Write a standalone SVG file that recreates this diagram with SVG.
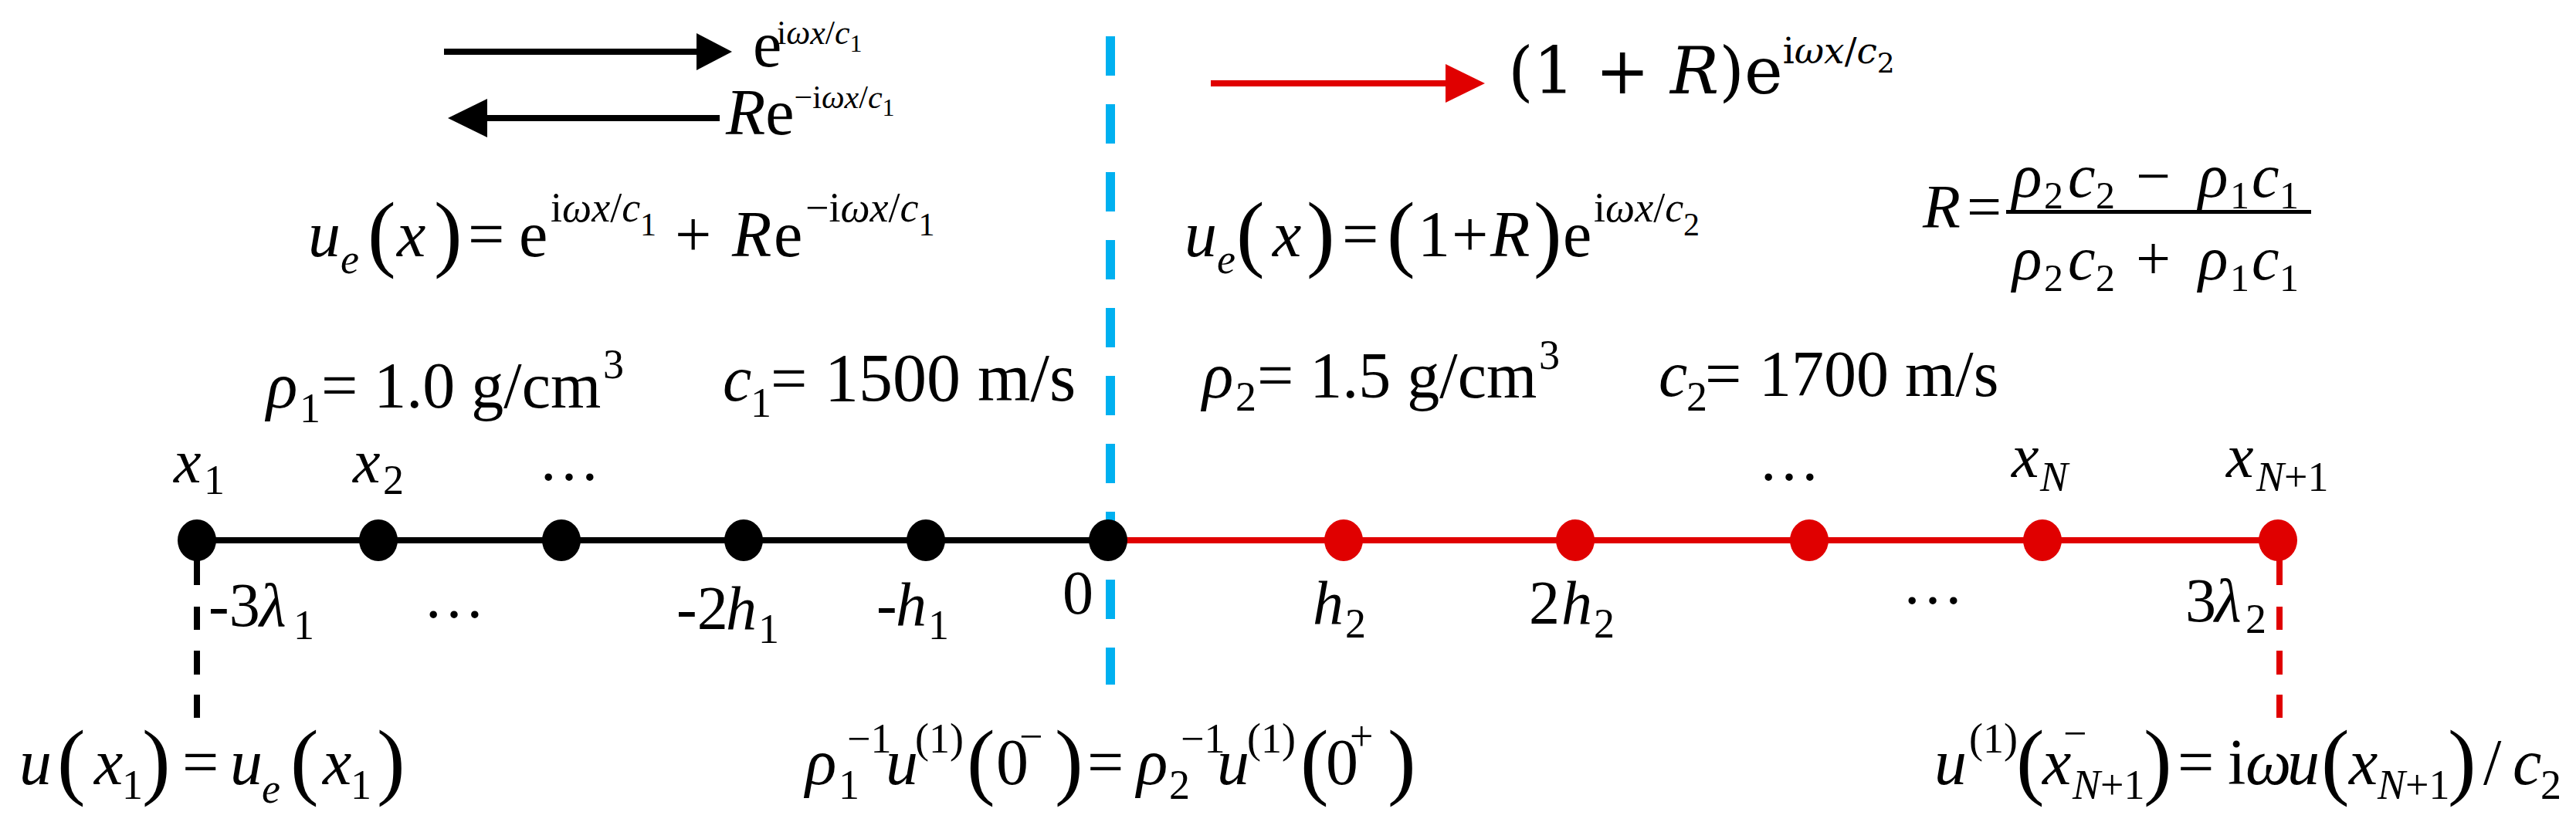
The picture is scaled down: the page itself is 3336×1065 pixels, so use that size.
<svg xmlns="http://www.w3.org/2000/svg" width="3336" height="1065" viewBox="0 0 3336 1065">
<style>
text{font-family:"Liberation Serif","Times New Roman",serif;fill:#000;font-size:84px}
.i{font-style:italic}
.s{font-size:54px}
.p{font-size:110px}
.c{font-family:"DejaVu Serif",serif}
.sup{font-size:54px}
.sub{font-size:42px}
.n{font-size:80px}
.f{font-size:80px}
.fs{font-size:50px}
.blk{fill:#000}
.red{fill:#E00000}
.ln{fill:none;stroke-width:8}
</style>
<rect width="3336" height="1065" fill="#fff"/>

<g id="connectors">
  <path d="M1438,47 V887" stroke="#00B0F0" stroke-width="12" stroke-dasharray="51 37" fill="none"/>
  <path class="ln" d="M255,700 H1435" stroke="#000"/>
  <path class="ln" d="M1435,700 H2950" stroke="#E00000"/>
  <path d="M255,700 V758 M255,786 V816 M255,843 V874 M255,900 V930" stroke="#000" stroke-width="8" fill="none"/>
  <path d="M2952,700 V758 M2952,786 V816 M2952,843 V874 M2952,900 V930" stroke="#E00000" stroke-width="8" fill="none"/>
  <g id="arrow-incident">
    <path d="M575,67 H905" stroke="#000" stroke-width="8"/>
    <polygon points="902,43 948,67 902,91" fill="#000"/>
  </g>
  <g id="arrow-reflected">
    <path d="M628,153 H932" stroke="#000" stroke-width="8"/>
    <polygon points="631,128 580,153 631,178" fill="#000"/>
  </g>
  <g id="arrow-transmitted">
    <path d="M1568,108 H1876" stroke="#E00000" stroke-width="8"/>
    <polygon points="1872,83 1923,108 1872,133" fill="#E00000"/>
  </g>
</g>

<g id="nodes">
  <g id="node-x1"><ellipse class="blk" cx="255" cy="700" rx="25" ry="27"/></g>
  <g id="node-x2"><ellipse class="blk" cx="490" cy="700" rx="25" ry="27"/></g>
  <g id="node-x3"><ellipse class="blk" cx="727" cy="700" rx="25" ry="27"/></g>
  <g id="node-m2h1"><ellipse class="blk" cx="963" cy="700" rx="25" ry="27"/></g>
  <g id="node-mh1"><ellipse class="blk" cx="1199" cy="700" rx="25" ry="27"/></g>
  <g id="node-0"><ellipse class="blk" cx="1435" cy="700" rx="25" ry="27"/></g>
  <g id="node-h2"><ellipse class="red" cx="1740" cy="700" rx="25" ry="27"/></g>
  <g id="node-2h2"><ellipse class="red" cx="2040" cy="700" rx="25" ry="27"/></g>
  <g id="node-xNm1"><ellipse class="red" cx="2343" cy="700" rx="25" ry="27"/></g>
  <g id="node-xN"><ellipse class="red" cx="2645" cy="700" rx="25" ry="27"/></g>
  <g id="node-xN1"><ellipse class="red" cx="2950" cy="700" rx="25" ry="27"/></g>
</g>

<g id="wave-labels">
  <text font-size="66"><tspan x="975" y="86">e</tspan><tspan font-size="44" x="1006" y="57">i</tspan><tspan font-size="44" class="i">ωx</tspan><tspan font-size="44">/</tspan><tspan font-size="44" class="i">c</tspan><tspan font-size="32" y="67">1</tspan></text>
  <text font-size="66"><tspan class="i" x="940" y="174">R</tspan><tspan>e</tspan><tspan font-size="42" y="140">−i</tspan><tspan font-size="42" class="i">ωx</tspan><tspan font-size="42">/</tspan><tspan font-size="42" class="i">c</tspan><tspan font-size="32" y="150">1</tspan></text>
  <text class="c" font-size="64"><tspan x="1953" y="121">(1 + </tspan><tspan class="i">R</tspan><tspan>)e</tspan><tspan font-size="47" y="82">i</tspan><tspan font-size="47" class="i">ωx</tspan><tspan font-size="47">/</tspan><tspan font-size="47" class="i">c</tspan><tspan font-size="36" y="94">2</tspan></text>
</g>

<g id="equations">
  <text><tspan class="i" x="399" y="332">u</tspan><tspan class="s i" x="441" y="354">e</tspan><tspan class="p" x="476" y="338">(</tspan><tspan class="i" x="514" y="332">x</tspan><tspan class="p" x="562" y="338">)</tspan><tspan x="606" y="332">=</tspan><tspan x="672" y="332">e</tspan><tspan class="sup" x="713" y="287">i</tspan><tspan class="sup i" y="287">ωx</tspan><tspan class="sup" y="287">/</tspan><tspan class="sup i" y="287">c</tspan><tspan class="sub" y="305">1</tspan><tspan x="874" y="332">+</tspan><tspan class="i" x="948" y="332">R</tspan><tspan x="1002" y="332">e</tspan><tspan class="sup" x="1043" y="287">−i</tspan><tspan class="sup i" y="287">ωx</tspan><tspan class="sup" y="287">/</tspan><tspan class="sup i" y="287">c</tspan><tspan class="sub" y="305">1</tspan></text>

  <text><tspan class="i" x="1534" y="332">u</tspan><tspan class="s i" x="1576" y="354">e</tspan><tspan class="p" x="1601" y="338">(</tspan><tspan class="i" x="1648" y="332">x</tspan><tspan class="p" x="1692" y="338">)</tspan><tspan x="1738" y="332">=</tspan><tspan class="p" x="1796" y="338">(</tspan><tspan x="1836" y="332">1</tspan><tspan x="1880" y="332">+</tspan><tspan class="i" x="1930" y="332">R</tspan><tspan class="p" x="1986" y="338">)</tspan><tspan x="2024" y="332">e</tspan><tspan class="sup" x="2064" y="287">i</tspan><tspan class="sup i" y="287">ωx</tspan><tspan class="sup" y="287">/</tspan><tspan class="sup i" y="287">c</tspan><tspan class="sub" y="305">2</tspan></text>

  <g id="reflection-coefficient">
    <text class="f"><tspan class="i" x="2490" y="295">R</tspan><tspan x="2547" y="295">=</tspan></text>
    <rect x="2598" y="272" width="395" height="5" fill="#000"/>
    <text class="f"><tspan class="i" x="2606" y="255">ρ</tspan><tspan class="fs" x="2647" y="270">2</tspan><tspan class="i" x="2678" y="255">c</tspan><tspan class="fs" x="2714" y="270">2</tspan><tspan x="2766" y="255">−</tspan><tspan class="i" x="2847" y="255">ρ</tspan><tspan class="fs" x="2888" y="270">1</tspan><tspan class="i" x="2916" y="255">c</tspan><tspan class="fs" x="2952" y="270">1</tspan></text>
    <text class="f"><tspan class="i" x="2606" y="362">ρ</tspan><tspan class="fs" x="2647" y="377">2</tspan><tspan class="i" x="2678" y="362">c</tspan><tspan class="fs" x="2714" y="377">2</tspan><tspan x="2766" y="362">+</tspan><tspan class="i" x="2847" y="362">ρ</tspan><tspan class="fs" x="2888" y="377">1</tspan><tspan class="i" x="2916" y="362">c</tspan><tspan class="fs" x="2952" y="377">1</tspan></text>
  </g>
</g>

<g id="material-labels">
  <text><tspan class="i" x="345" y="528">ρ</tspan><tspan class="s" x="388" y="547">1</tspan><tspan x="416" y="528">= 1.0 g/cm</tspan><tspan class="sup" x="781" y="490">3</tspan></text>
  <text font-size="86"><tspan class="i" x="936" y="519">c</tspan><tspan class="s" x="972" y="540">1</tspan><tspan x="998" y="519">=</tspan><tspan font-size="88" x="1068" y="519">1500 m/s</tspan></text>
  <text><tspan class="i" x="1557" y="515">ρ</tspan><tspan class="s" x="1600" y="532">2</tspan><tspan x="1628" y="515">= 1.5 g/cm</tspan><tspan class="sup" x="1993" y="478">3</tspan></text>
  <text font-size="86"><tspan class="i" x="2148" y="513">c</tspan><tspan class="s" x="2184" y="532">2</tspan><tspan x="2208" y="513">=</tspan><tspan x="2278" y="513">1700 m/s</tspan></text>
</g>

<g id="node-labels">
  <text class="n"><tspan class="i" x="225" y="625">x</tspan><tspan class="s" x="264" y="640">1</tspan></text>
  <text class="n"><tspan class="i" x="457" y="625">x</tspan><tspan class="s" x="496" y="640">2</tspan></text>
  <text class="n" x="697" y="622">…</text>
  <text class="n" x="2277" y="622">…</text>
  <text class="n"><tspan class="i" x="2605" y="618">x</tspan><tspan class="s i" x="2642" y="636">N</tspan></text>
  <text class="n"><tspan class="i" x="2883" y="618">x</tspan><tspan class="s i" x="2922" y="636">N</tspan><tspan class="s" y="636">+1</tspan></text>

  <text class="n"><tspan x="270" y="811">-3</tspan><tspan class="i" x="336" y="811">λ</tspan><tspan class="s" x="380" y="828">1</tspan></text>
  <text class="n" x="548" y="800">…</text>
  <text class="n"><tspan x="876" y="815">-2</tspan><tspan class="i" x="940" y="815">h</tspan><tspan class="s" x="982" y="833">1</tspan></text>
  <text class="n"><tspan x="1135" y="810">-</tspan><tspan class="i" x="1160" y="810">h</tspan><tspan class="s" x="1202" y="828">1</tspan></text>
  <text class="n" x="1376" y="795">0</text>
  <text class="n"><tspan class="i" x="1700" y="808">h</tspan><tspan class="s" x="1742" y="826">2</tspan></text>
  <text class="n"><tspan x="1980" y="808">2</tspan><tspan class="i" x="2022" y="808">h</tspan><tspan class="s" x="2064" y="826">2</tspan></text>
  <text class="n" x="2463" y="782">…</text>
  <text class="n"><tspan x="2830" y="805">3</tspan><tspan class="i" x="2868" y="805">λ</tspan><tspan class="s" x="2908" y="820">2</tspan></text>
</g>

<g id="boundary-conditions">
  <text><tspan class="i" x="25" y="1016">u</tspan><tspan class="p" x="74" y="1022">(</tspan><tspan class="i" x="122" y="1016">x</tspan><tspan class="s" x="158" y="1035">1</tspan><tspan class="p" x="184" y="1022">)</tspan><tspan x="236" y="1016">=</tspan><tspan class="i" x="298" y="1016">u</tspan><tspan class="s i" x="339" y="1040">e</tspan><tspan class="p" x="376" y="1022">(</tspan><tspan class="i" x="418" y="1016">x</tspan><tspan class="s" x="454" y="1035">1</tspan><tspan class="p" x="488" y="1022">)</tspan></text>

  <text><tspan class="i" x="1043" y="1016">ρ</tspan><tspan class="s" x="1086" y="1035">1</tspan><tspan class="s" x="1097" y="975">−1</tspan><tspan class="i" x="1147" y="1016">u</tspan><tspan class="s" x="1185" y="975">(1)</tspan><tspan class="p" x="1252" y="1022">(</tspan><tspan x="1290" y="1016">0</tspan><tspan class="s" x="1320" y="972">−</tspan><tspan class="p" x="1366" y="1022">)</tspan><tspan x="1408" y="1016">=</tspan><tspan class="i" x="1472" y="1016">ρ</tspan><tspan class="s" x="1514" y="1035">2</tspan><tspan class="s" x="1529" y="975">−1</tspan><tspan class="i" x="1576" y="1016">u</tspan><tspan class="s" x="1615" y="975">(1)</tspan><tspan class="p" x="1684" y="1022">(</tspan><tspan x="1717" y="1016">0</tspan><tspan class="s" x="1748" y="972">+</tspan><tspan class="p" x="1797" y="1022">)</tspan></text>

  <text><tspan class="i" x="2505" y="1016">u</tspan><tspan class="s" x="2550" y="975">(1)</tspan><tspan class="p" x="2611" y="1022">(</tspan><tspan class="i" x="2645" y="1016">x</tspan><tspan class="s" x="2672" y="968">−</tspan><tspan class="s i" x="2684" y="1035">N</tspan><tspan class="s" y="1035">+1</tspan><tspan class="p" x="2776" y="1022">)</tspan><tspan x="2820" y="1016">=</tspan><tspan x="2885" y="1016">i</tspan><tspan class="i" x="2908" y="1016">ω</tspan><tspan class="i" x="2962" y="1016">u</tspan><tspan class="p" x="3006" y="1022">(</tspan><tspan class="i" x="3042" y="1016">x</tspan><tspan class="s i" x="3079" y="1035">N</tspan><tspan class="s" y="1035">+1</tspan><tspan class="p" x="3170" y="1022">)</tspan><tspan x="3216" y="1016">/</tspan><tspan class="i" x="3254" y="1016">c</tspan><tspan class="s" x="3290" y="1035">2</tspan></text>
</g>
</svg>
